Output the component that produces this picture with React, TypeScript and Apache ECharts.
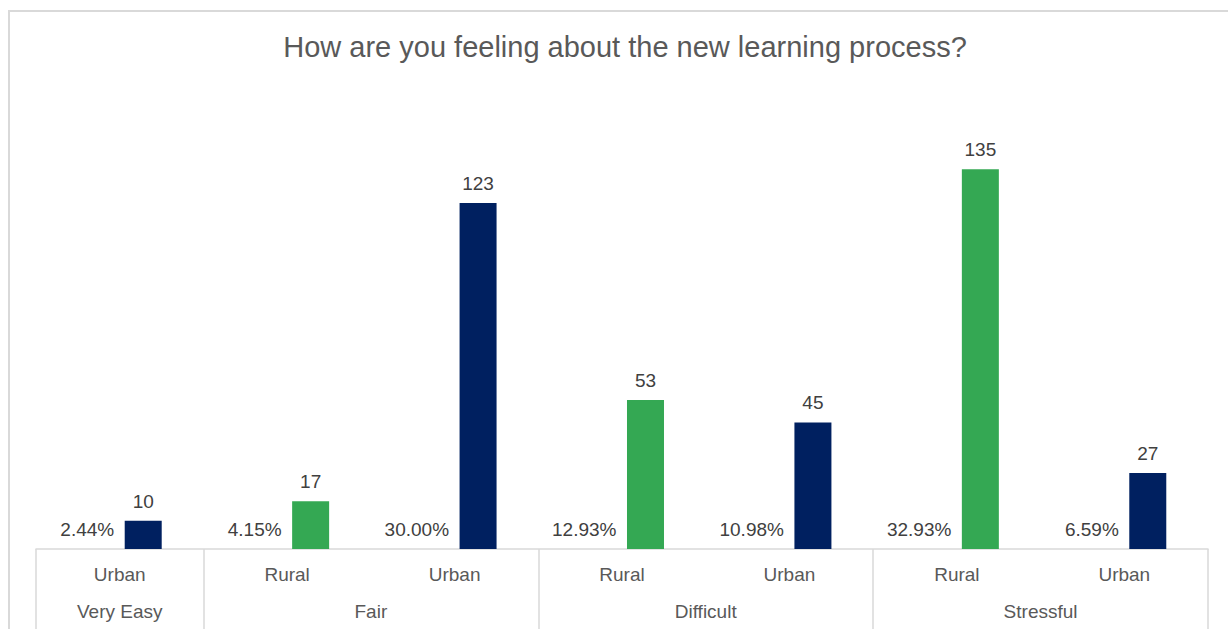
import React, { useEffect, useRef } from "react";
import * as echarts from "echarts";

const title = "How are you feeling about the new learning process?";
const subCategories = ["Urban", "Rural", "Urban", "Rural", "Urban", "Rural", "Urban"];
const groups = ["Very Easy", "Fair", "Difficult", "Stressful"];
const groupSpans = [1, 2, 2, 2];
const counts = [10, 17, 123, 53, 45, 135, 27];
const percents = [2.44, 4.15, 30.0, 12.93, 10.98, 32.93, 6.59];
const colorBySub: Record<string, string> = { Rural: "#34A853", Urban: "#002060" };

export default function App() {
  const ref = useRef<HTMLDivElement>(null);
  useEffect(() => {
    if (!ref.current) return;
    const chart = echarts.init(ref.current, undefined, { renderer: "svg" });
    const boundaries: number[] = [0];
    const centers: number[] = [];
    groupSpans.forEach((s) => {
      const start = boundaries[boundaries.length - 1];
      centers.push(start + s / 2);
      boundaries.push(start + s);
    });
    const font = "Arial, 'Liberation Sans', sans-serif";
    chart.setOption({
      animation: false,
      backgroundColor: "#ffffff",
      title: {
        text: title,
        left: 620,
        textAlign: "center",
        top: 27,
        textStyle: { fontFamily: font, fontSize: 29, fontWeight: "normal", color: "#595959" },
      },
      graphic: [
        {
          type: "rect",
          shape: { x: 9, y: 11, width: 1260, height: 700 },
          style: { fill: "none", stroke: "#d9d9d9", lineWidth: 2 },
          silent: true,
        },
      ],
      grid: { left: 36, right: 20, top: 127, bottom: 80 },
      xAxis: [
        {
          type: "category",
          data: subCategories,
          axisLine: { show: true, lineStyle: { color: "#d9d9d9", width: 1.5 } },
          axisTick: { show: false },
          axisLabel: { fontFamily: font, fontSize: 19, color: "#595959", margin: 16 },
        },
        {
          type: "value",
          min: 0,
          max: subCategories.length,
          position: "bottom",
          axisLine: { show: false },
          splitLine: { show: false },
          axisTick: {
            show: true,
            customValues: boundaries,
            length: 100,
            lineStyle: { color: "#d9d9d9", width: 1.5 },
          },
          axisLabel: {
            customValues: centers,
            fontFamily: font,
            fontSize: 19,
            color: "#595959",
            margin: 53,
            formatter: (v: number) => {
              const i = centers.findIndex((c) => Math.abs(c - v) < 1e-6);
              return i >= 0 ? groups[i] : "";
            },
          },
        },
      ],
      yAxis: [
        { type: "value", min: 0, max: 150, show: false, splitLine: { show: false } },
        { type: "value", min: 0, max: 1000000, show: false, splitLine: { show: false } },
      ],
      series: [
        {
          name: "Percent",
          type: "bar",
          xAxisIndex: 0,
          yAxisIndex: 1,
          data: percents,
          barWidth: 37,
          itemStyle: { color: "rgba(0,0,0,0)" },
          label: {
            show: true,
            position: "top",
            align: "right",
            offset: [18, 0],
            distance: 10,
            fontFamily: font,
            fontSize: 19,
            color: "#404040",
            formatter: (p: any) => Number(p.value).toFixed(2) + "%",
          },
        },
        {
          name: "Count",
          type: "bar",
          xAxisIndex: 0,
          yAxisIndex: 0,
          data: counts.map((v, i) => ({ value: v, itemStyle: { color: colorBySub[subCategories[i]] } })),
          barWidth: 37,
          barGap: "27%",
          label: {
            show: true,
            position: "top",
            distance: 10,
            fontFamily: font,
            fontSize: 19,
            color: "#404040",
          },
        },
      ],
    });
    return () => chart.dispose();
  }, []);
  return (
    <div
      ref={ref}
      style={{ position: "fixed", left: 0, top: 0, width: 1228, height: 629, background: "#fff" }}
    />
  );
}
